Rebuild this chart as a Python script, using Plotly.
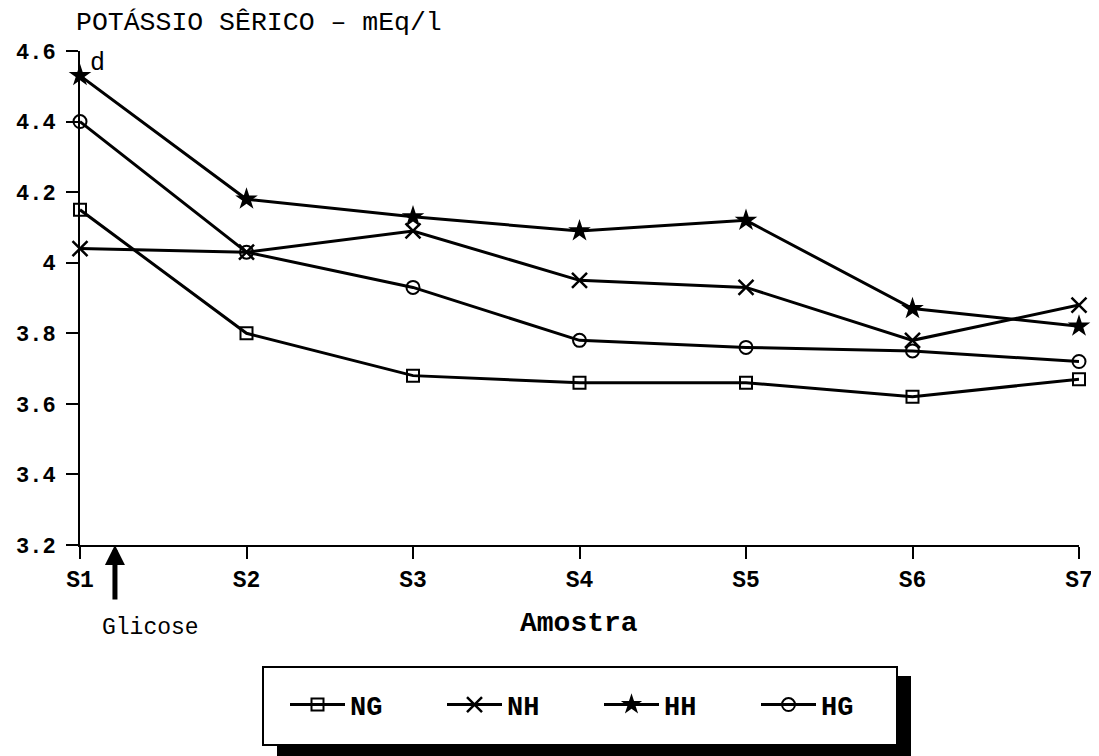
import plotly.graph_objects as go

samples = ["S1", "S2", "S3", "S4", "S5", "S6", "S7"]
ng = [4.15, 3.80, 3.68, 3.66, 3.66, 3.62, 3.67]
nh = [4.04, 4.03, 4.09, 3.95, 3.93, 3.78, 3.88]
hh = [4.53, 4.18, 4.13, 4.09, 4.12, 3.87, 3.82]
hg = [4.40, 4.03, 3.93, 3.78, 3.76, 3.75, 3.72]
y_ticks = [3.2, 3.4, 3.6, 3.8, 4.0, 4.2, 4.4, 4.6]
y_ticktext = ["3.2", "3.4", "3.6", "3.8", "4", "4.2", "4.4", "4.6"]

OFF = 8  # page body margin
W, H = 1099 - OFF, 756 - OFF
L, R, T, B = 80 - OFF, 20, 51 - OFF, 211
PW, PH = W - L - R, H - T - B

def px(x):
    return (x - OFF - L) / PW

def py(y):
    return (H - B - (y - OFF)) / PH

FONT = "Liberation Mono"

fig = go.Figure()
series = [
    ("NG", ng, dict(symbol="square-open", size=12, line=dict(width=2, color="black"))),
    ("NH", nh, dict(symbol="x-thin-open", size=15, line=dict(width=2.5, color="black"))),
    ("HH", hh, dict(symbol="star", size=17, line=dict(width=0, color="black"))),
    ("HG", hg, dict(symbol="circle-open", size=13, line=dict(width=2, color="black"))),
]
for name, vals, mk in series:
    fig.add_trace(go.Scatter(
        x=samples, y=vals, name=name, mode="lines+markers",
        line=dict(color="black", width=3),
        marker=dict(color="black", **mk),
        cliponaxis=False,
    ))

fig.update_layout(
    width=W, height=H,
    margin=dict(l=L, r=R, t=T, b=B, autoexpand=False),
    paper_bgcolor="white", plot_bgcolor="white",
    font=dict(family=FONT, color="black", size=22),
    showlegend=True,
    legend=dict(
        orientation="h", x=px(285), y=py(705), xanchor="left", yanchor="middle",
        bgcolor="rgba(0,0,0,0)", borderwidth=0,
        font=dict(family=FONT, size=27, color="black", weight="bold"),
        entrywidth=87, entrywidthmode="pixels", itemwidth=55,
    ),
    xaxis=dict(
        type="category", range=[0, 6], showgrid=False, zeroline=False,
        showline=True, linecolor="black", linewidth=2, automargin=False,
        ticks="outside", ticklen=12, tickwidth=2, tickcolor="black",
        tickfont=dict(family=FONT, size=23, color="black", weight="bold"),
    ),
    yaxis=dict(
        range=[3.2, 4.6], showgrid=False, zeroline=False,
        showline=True, linecolor="black", linewidth=2, automargin=False,
        tickvals=y_ticks, ticktext=y_ticktext,
        ticks="outside", ticklen=12, tickwidth=2, tickcolor="black",
        tickfont=dict(family=FONT, size=22, color="black", weight="bold"),
        ticklabelstandoff=6,
    ),
)

# legend box with drop shadow
fig.add_shape(type="rect", xref="paper", yref="paper",
              x0=px(277), x1=px(911), y0=py(756), y1=py(676),
              fillcolor="black", line=dict(width=0))
fig.add_shape(type="rect", xref="paper", yref="paper",
              x0=px(263), x1=px(897), y0=py(745), y1=py(667),
              fillcolor="white", line=dict(width=2, color="black"))

# texts
fig.add_annotation(text="POTÁSSIO SÊRICO – mEq/l", xref="paper", yref="paper",
                   x=px(74), y=py(23), xanchor="left", yanchor="middle",
                   showarrow=False, font=dict(family=FONT, size=26.5, color="black"))
fig.add_annotation(text="Amostra", xref="paper", yref="paper",
                   x=px(579), y=py(623), xanchor="center", yanchor="middle",
                   showarrow=False, font=dict(family=FONT, size=28, color="black", weight="bold"))
fig.add_annotation(text="Glicose", xref="paper", yref="paper",
                   x=px(150), y=py(628), xanchor="center", yanchor="middle",
                   showarrow=False, font=dict(family=FONT, size=23, color="black"))
fig.add_annotation(text="d", xref="paper", yref="paper",
                   x=px(97), y=py(64), xanchor="center", yanchor="middle",
                   showarrow=False, font=dict(family=FONT, size=25, color="black"))
# Glicose arrow
fig.add_annotation(text="", x=0.21, y=3.2, xref="x", yref="y",
                   showarrow=True, ax=0, ay=56, arrowhead=2, arrowsize=0.8,
                   arrowwidth=5, arrowcolor="black")

fig.write_html("out.html")
